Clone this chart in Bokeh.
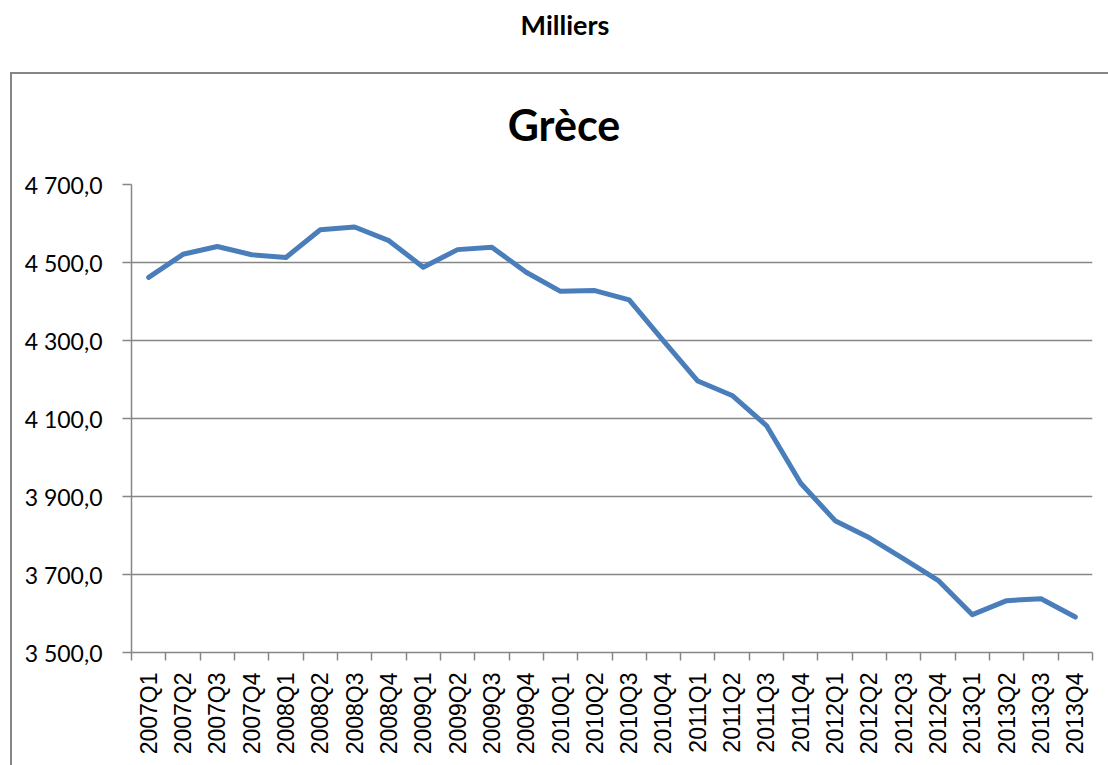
import math
from bokeh.plotting import figure
from bokeh.models import Range1d, FixedTicker, Div
from bokeh.layouts import column
from bokeh.embed import file_html
from bokeh.resources import INLINE

quarters = ["2007Q1", "2007Q2", "2007Q3", "2007Q4", "2008Q1", "2008Q2", "2008Q3", "2008Q4",
            "2009Q1", "2009Q2", "2009Q3", "2009Q4", "2010Q1", "2010Q2", "2010Q3", "2010Q4",
            "2011Q1", "2011Q2", "2011Q3", "2011Q4", "2012Q1", "2012Q2", "2012Q3", "2012Q4",
            "2013Q1", "2013Q2", "2013Q3", "2013Q4"]
emploi = [4462, 4521, 4541, 4520, 4513, 4584, 4591, 4556,
          4488, 4533, 4539, 4475, 4426, 4428, 4404, 4299,
          4196, 4159, 4082, 3934, 3838, 3794, 3740, 3685,
          3597, 3633, 3638, 3591]
y_ticks = [3500, 3700, 3900, 4100, 4300, 4500, 4700]
page_title = "Milliers"
chart_title = "Grèce"

GRAY = "#868686"

def fr(v):
    return f"{v:,.1f}".replace(",", " ").replace(".", ",")

n = len(quarters)
xs = [i + 0.5 for i in range(n)]

p = figure(width=1096, height=601, output_backend="svg", toolbar_location=None,
           x_range=Range1d(0, n), y_range=Range1d(y_ticks[0], y_ticks[-1]),
           min_border_left=119, min_border_right=16, min_border_top=20, min_border_bottom=113,
           margin=0)
p.title.text = ""
p.outline_line_color = None
p.background_fill_color = "white"
p.border_fill_color = "white"

p.line(xs, emploi, line_color="#4a7ebb", line_width=5, line_join="round", line_cap="round")

# y axis
ya = p.yaxis[0]
ya.ticker = FixedTicker(ticks=y_ticks, minor_ticks=[])
ya.major_label_overrides = {t: fr(t) for t in y_ticks}
ya.axis_line_color = GRAY
ya.axis_line_width = 1.5
ya.major_tick_line_color = GRAY
ya.major_tick_line_width = 1.5
ya.major_tick_in = 0
ya.major_tick_out = 9
ya.minor_tick_line_color = None
ya.major_label_standoff = 20
ya.major_label_text_font = "Lato"
ya.major_label_text_font_size = "23px"
ya.major_label_text_color = "black"

# x axis
xa = p.xaxis[0]
xa.ticker = FixedTicker(ticks=xs, minor_ticks=list(range(n + 1)))
xa.major_label_overrides = {x: q for x, q in zip(xs, quarters)}
xa.major_label_orientation = math.pi / 2
xa.axis_line_color = GRAY
xa.axis_line_width = 1.5
xa.major_tick_line_color = None
xa.major_tick_in = 0
xa.major_tick_out = 8
xa.minor_tick_line_color = GRAY
xa.minor_tick_line_width = 1.5
xa.minor_tick_in = 0
xa.minor_tick_out = 8
xa.major_label_standoff = 12
xa.major_label_text_font = "Liberation Sans"
xa.major_label_text_font_size = "23px"
xa.major_label_text_color = "black"

p.xgrid.grid_line_color = None
p.ygrid.ticker = FixedTicker(ticks=y_ticks)
p.ygrid.grid_line_color = GRAY
p.ygrid.grid_line_width = 1.5

div_m = Div(text=('<div style="width:1108px;padding-left:22px;box-sizing:border-box;'
                  'text-align:center;line-height:50px;font-family:Lato;font-weight:bold;'
                  'font-size:27px;color:black">' + page_title + '</div>'),
            width=1108, height=72, margin=0)
div_g = Div(text=('<div style="width:1096px;padding-left:8px;padding-top:26px;box-sizing:border-box;'
                  'text-align:center;line-height:50px;font-family:Lato;font-weight:bold;'
                  'font-size:43px;color:black">' + chart_title + '</div>'),
            width=1096, height=90, margin=0)

wrapper = column(div_g, p, spacing=0, margin=0,
                 styles={"border-left": "2px solid " + GRAY, "border-top": "2px solid " + GRAY,
                         "margin-left": "10px", "background": "white"})
layout = column(div_m, wrapper, spacing=0, margin=0)

open("out.html", "w").write(file_html(layout, INLINE))
